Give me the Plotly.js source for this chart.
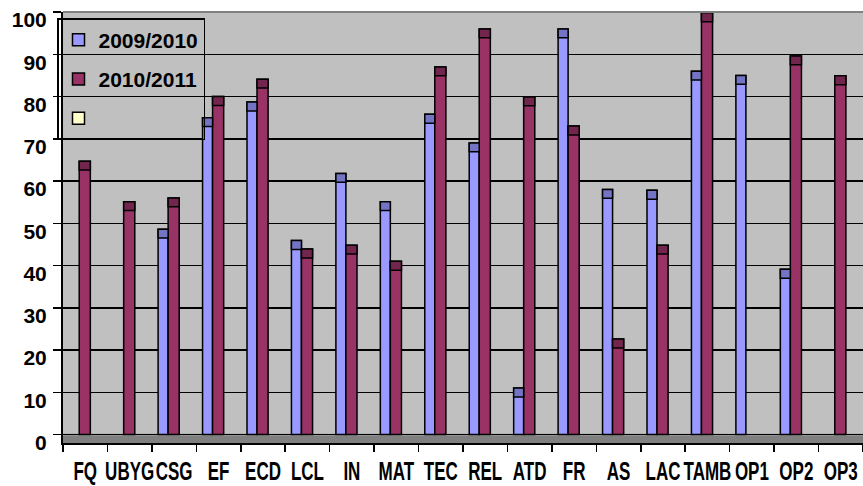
<!DOCTYPE html>
<html>
<head>
<meta charset="utf-8">
<script src="https://cdn.plot.ly/plotly-3.0.1.min.js"></script>
<style>
  html, body { margin: 0; padding: 0; background: #ffffff; }
  #chart { width: 863px; height: 486px; }
</style>
</head>
<body>
<div id="chart"></div>
<script>
// ---- data ----
const categories = ['FQ','UBYG','CSG','EF','ECD','LCL','IN','MAT','TEC','REL','ATD','FR','AS','LAC','TAMB','OP1','OP2','OP3'];
const series0910 = [null, null, 48.6, 75.0, 78.7, 45.9, 61.8, 55.1, 75.8, 69.0, 11.0, 96.0, 58.0, 57.8, 86.0, 85.0, 39.1, null];
const series1011 = [64.7, 55.1, 56.0, 80.0, 84.1, 43.9, 44.8, 41.0, 87.0, 96.0, 79.9, 73.0, 22.6, 44.8, 99.8, null, 89.6, 84.9];
const series3 = categories.map(() => null);
const seriesNames = ['2009/2010', '2010/2011', ' '];
const yTicks = [0, 10, 20, 30, 40, 50, 60, 70, 80, 90, 100];

// ---- style ----
const CAP = 2.1;               // depth of the 3-D top face, in value units
const outline = {color: '#000000', width: 1.5};

function mainTrace(vals, name, color, offset, width, group) {
  return {
    type: 'bar', x: categories, y: vals, name: name,
    offset: offset, width: width, legendgroup: group,
    marker: {color: color, line: outline},
    hoverinfo: 'x+y+name'
  };
}
function capTrace(vals, color, offset, width, group) {
  return {
    type: 'bar', x: categories,
    y: vals.map(v => v == null ? null : CAP),
    base: vals.map(v => v == null ? null : v - CAP),
    offset: offset, width: width, legendgroup: group, showlegend: false,
    marker: {color: color, line: outline}, hoverinfo: 'skip'
  };
}

const traces = [
  mainTrace(series0910, seriesNames[0], '#9999FF', -0.36, 0.225, 'a'),
  mainTrace(series1011, seriesNames[1], '#993366', -0.135, 0.25, 'b'),
  mainTrace(series3,    seriesNames[2], '#FFFFCC', 0.115, 0.225, 'c'),
  capTrace(series0910, '#7474C4', -0.36, 0.225, 'a'),
  capTrace(series1011, '#73264D', -0.135, 0.25, 'b')
];

const layout = {
  width: 863, height: 486,
  margin: {l: 63, r: 0, t: 12, b: 43},
  paper_bgcolor: '#FFFFFF',
  plot_bgcolor: '#C0C0C0',
  barmode: 'overlay',
  showlegend: true,
  legend: {
    x: -0.0075, xanchor: 'left', y: 0.986, yanchor: 'top',
    bgcolor: 'rgba(0,0,0,0)', bordercolor: '#000000', borderwidth: 1.5,
    traceorder: 'grouped', tracegroupgap: 9, itemwidth: 30,
    font: {family: 'Liberation Sans, Arial, sans-serif', size: 21, color: '#000000', weight: 'bold'}
  },
  xaxis: {
    type: 'category', range: [-0.5, categories.length - 0.5],
    showline: true, linecolor: '#000000', linewidth: 2,
    ticks: 'outside', tickson: 'boundaries', ticklen: 7, tickwidth: 1.5, tickcolor: '#000000',
    ticklabelstandoff: 5,
    tickangle: 0, showgrid: false, zeroline: false,
    tickfont: {family: 'Liberation Sans, Arial, sans-serif', size: 25, color: '#000000', weight: 'bold'}
  },
  yaxis: {
    range: [-2, 100], tickmode: 'array', tickvals: yTicks, ticktext: yTicks.map(String),
    showline: true, linecolor: '#000000', linewidth: 2,
    ticks: 'outside', ticklen: 8, tickwidth: 1.5, tickcolor: '#000000',
    ticklabelshift: 8, ticklabelstandoff: 2,
    showgrid: true, gridcolor: '#000000', gridwidth: 1.5, zeroline: false,
    tickfont: {family: 'Liberation Sans, Arial, sans-serif', size: 21, color: '#000000', weight: 'bold'}
  },
  shapes: [
    {type: 'rect', xref: 'paper', x0: 0, x1: 1, yref: 'y', y0: -2, y1: 0,
     fillcolor: '#808080', line: {width: 0}, layer: 'below'},
    {type: 'line', xref: 'paper', x0: 0, x1: 1, yref: 'y', y0: 0, y1: 0,
     line: {color: '#A6A6A6', width: 2}, layer: 'below'},
    {type: 'line', xref: 'paper', x0: 0, x1: 1, yref: 'paper', y0: 1, y1: 1,
     line: {color: '#808080', width: 2}}
  ]
};

Plotly.newPlot('chart', traces, layout, {staticPlot: true, displayModeBar: false}).then(gd => {
  // the reference draws its category labels in a horizontally squeezed face
  gd.querySelectorAll('g.xtick text').forEach(t => {
    const w = t.getComputedTextLength();
    t.setAttribute('textLength', (w * 0.68).toFixed(1));
    t.setAttribute('lengthAdjust', 'spacingAndGlyphs');
  });
});
</script>
</body>
</html>
